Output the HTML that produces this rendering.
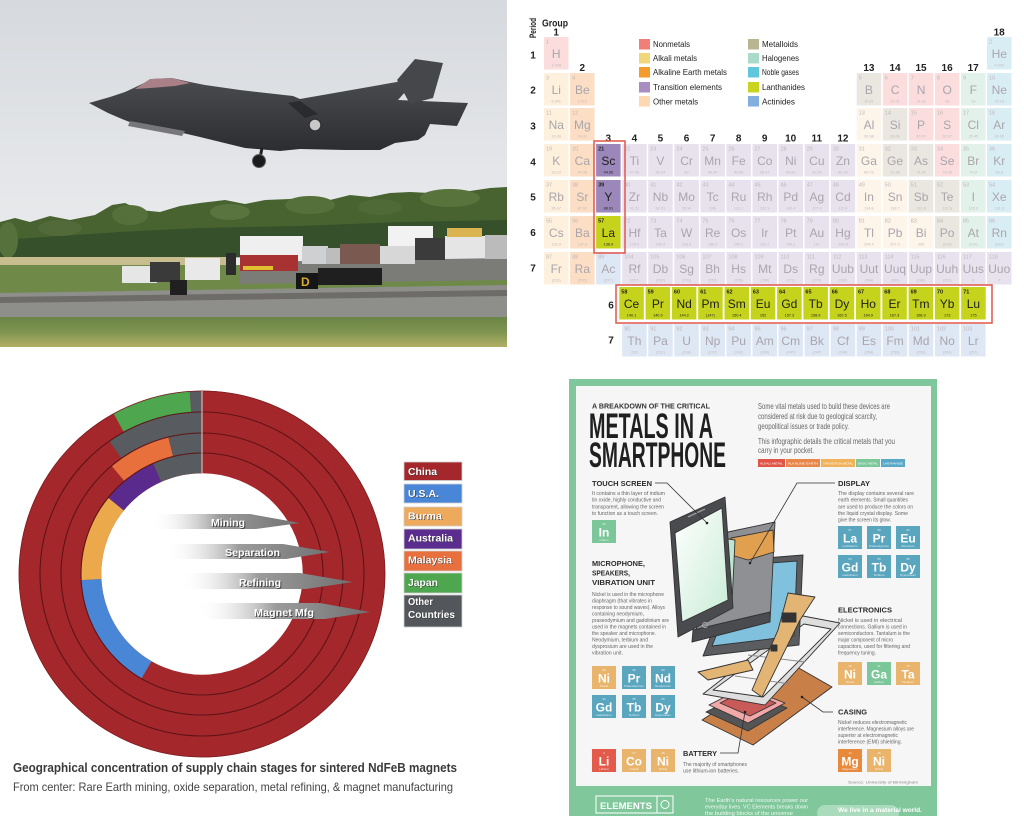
<!DOCTYPE html>
<html><head><meta charset="utf-8"><style>
html,body{margin:0;padding:0;background:#fff;}
svg{display:block}
text{font-family:"Liberation Sans",sans-serif}
.pt rect{stroke:none}
.n{font-size:5.5px;fill:#bdb6b8}
.s{font-size:12px;fill:#a9a5ab;text-anchor:middle}
.m{font-size:3.8px;fill:#c0bbbd;text-anchor:middle}
.nm rect{fill:#fbdddd}.ak rect{fill:#fdf0dc}.ae rect{fill:#fcdec4}.tr rect{fill:#e8e2ef}
.om rect{fill:#fdf4ea}.md rect{fill:#e9e7df}.hg rect{fill:#e2f2eb}.ng rect{fill:#d9eef4}
.ac rect{fill:#dee7f4}.hl rect{fill:#9b87ba}.ln rect{fill:#c6d31c}
.hl text,.ln text{fill:#1e1e1e}
.hl .n,.ln .n{font-weight:bold}
.gl{font-size:10px;font-weight:bold;fill:#222;text-anchor:middle}
.lg{font-size:8px;fill:#222}
.dl{font-size:10.5px;font-weight:bold;fill:#fff}
.dls{font-size:10.5px;font-weight:bold;fill:#333}
.at{font-size:10px;font-weight:bold;fill:#fff}
.ats{font-size:10px;font-weight:bold;fill:#444}
.ts{font-size:12px;font-weight:bold;fill:#fff;text-anchor:middle}
.tn{font-size:3px;fill:#fff;text-anchor:middle;opacity:.8}
.ih{font-size:7.5px;font-weight:bold;fill:#2b2b2b}
.ip{font-size:5px;fill:#666}
.ir{font-size:8.5px;fill:#666}
</style></head><body>
<svg width="1024" height="816" viewBox="0 0 1024 816" xmlns="http://www.w3.org/2000/svg">
<defs>
<linearGradient id="sky" x1="0" y1="0" x2="0" y2="1">
<stop offset="0" stop-color="#d6d9dd"/><stop offset="0.5" stop-color="#e4e6e9"/><stop offset="1" stop-color="#eef0f1"/>
</linearGradient>
<linearGradient id="jet" x1="0" y1="0" x2="0" y2="1">
<stop offset="0" stop-color="#4b4c50"/><stop offset="1" stop-color="#2c2d30"/>
</linearGradient>
<linearGradient id="grass" x1="0" y1="0" x2="0" y2="1">
<stop offset="0" stop-color="#6a8446"/><stop offset="0.5" stop-color="#7f9450"/><stop offset="1" stop-color="#b2b064"/>
</linearGradient>
<linearGradient id="arr" x1="0" y1="0" x2="1" y2="0">
<stop offset="0" stop-color="#ffffff" stop-opacity="0"/><stop offset="0.45" stop-color="#9c9c9c"/><stop offset="1" stop-color="#707070"/>
</linearGradient>
<linearGradient id="scr" x1="0" y1="0" x2="1" y2="1">
<stop offset="0" stop-color="#ffffff"/><stop offset="1" stop-color="#c9ecd6"/>
</linearGradient>
</defs>

<!-- ============ PHOTO ============ -->
<rect x="0" y="0" width="507" height="347" fill="url(#sky)"/>
<path d="M0,222 L15,218 L30,222 L50,216 L70,220 L95,215 L112,205 L125,203 L140,210 L160,212 L180,206 L200,203 L225,200 L245,204 L265,200 L290,199 L310,196 L330,200 L350,195 L370,197 L390,193 L410,192 L430,193 L450,190 L470,191 L490,188 L507,187 L507,250 L0,262 Z" fill="#48632f"/>
<path d="M0,240 L60,236 L120,232 L200,228 L300,226 L400,222 L507,220 L507,252 L0,262 Z" fill="#35502a"/>
<ellipse cx="130" cy="215" rx="18" ry="10" fill="#55703a"/>
<ellipse cx="310" cy="205" rx="25" ry="9" fill="#55703a"/>
<ellipse cx="450" cy="198" rx="30" ry="9" fill="#58733c"/>
<ellipse cx="60" cy="228" rx="22" ry="8" fill="#52693a"/>
<ellipse cx="230" cy="212" rx="20" ry="8" fill="#5a7440"/>
<ellipse cx="380" cy="207" rx="22" ry="8" fill="#4f6a36"/>
<ellipse cx="8" cy="240" rx="10" ry="18" fill="#56713c"/>
<rect x="0" y="257" width="230" height="9" fill="#c8bd8f"/>
<rect x="0" y="265" width="507" height="30" fill="#6f8949"/>
<path d="M240,262 L507,258 L507,280 L240,284 Z" fill="#7b7b77"/>
<path d="M0,293 L507,285 L507,318 L0,318 Z" fill="#8e8e8b"/>
<path d="M0,297 L507,290 L507,296 L0,303 Z" fill="#6d6c68"/>
<rect x="0" y="317" width="507" height="30" fill="url(#grass)"/>
<!-- vehicles -->
<rect x="122" y="266" width="35" height="17" fill="#e6e6e6"/>
<rect x="150" y="262" width="30" height="20" fill="#3a3a3a"/>
<rect x="185" y="258" width="35" height="22" fill="#e9e9e9"/>
<rect x="170" y="280" width="17" height="15" fill="#202020"/>
<rect x="226" y="253" width="10" height="22" fill="#2c2c2c"/>
<rect x="240" y="236" width="63" height="22" fill="#efefef"/>
<rect x="240" y="255" width="58" height="16" fill="#a83232"/>
<rect x="243" y="266" width="30" height="4" fill="#e0c030"/>
<rect x="302" y="246" width="26" height="18" fill="#cfd0d2"/>
<rect x="326" y="248" width="22" height="16" fill="#bdbdbd"/>
<rect x="340" y="244" width="40" height="20" fill="#7a5a50"/>
<rect x="380" y="246" width="35" height="18" fill="#d7d7d7"/>
<rect x="388" y="226" width="45" height="20" fill="#f2f2f2"/>
<rect x="415" y="238" width="30" height="22" fill="#3b3b3b"/>
<rect x="445" y="236" width="40" height="22" fill="#e5e5e5"/>
<rect x="447" y="228" width="35" height="9" fill="#d9b450"/>
<rect x="485" y="235" width="22" height="24" fill="#bbbbbb"/>
<rect x="318" y="268" width="64" height="17" fill="#1f1f1f"/>
<rect x="296" y="273" width="22" height="16" fill="#161616"/>
<text x="301" y="286" font-size="12" font-weight="bold" fill="#d9ac2a">D</text>
<!-- jet -->
<path d="M89,103 L110,97 L125,92 L140,85 L152,79 L172,78 L190,82 L205,85 L240,90 L293,96 L300,99 L408,80 L413,83 L398,100 L468,103 L457,126 L430,124 L425,135 L418,140 L395,143 L380,150 L345,150 L300,149 L280,151 L245,148 L200,137 L170,130 L140,126 L122,119 L108,113 Z" fill="url(#jet)"/>
<path d="M397,80 L415,59 L443,63 L433,98 L410,104 Z" fill="#46474b"/>
<path d="M135,89 L150,79 L172,78 L190,83 L175,86 L150,88 Z" fill="#a98088"/>
<path d="M130,121 L185,131 L182,136 L128,126 Z" fill="#77777a"/>
<path d="M288,103 L300,101 L318,114 L305,118 Z" fill="#2a2b2e"/>
<line x1="262" y1="148" x2="260" y2="158" stroke="#222" stroke-width="3"/>
<circle cx="259" cy="161" r="6.5" fill="#1c1c1e" stroke="#5a5a5a" stroke-width="1"/>
<circle cx="315" cy="125" r="6" fill="#c8c8c8" stroke="#333" stroke-width="1.5"/>

<!-- ============ PERIODIC TABLE ============ -->
<text transform="translate(536,28) rotate(-90)" font-size="9" font-weight="bold" fill="#222" text-anchor="middle" textLength="20" lengthAdjust="spacingAndGlyphs">Period</text>
<text x="542" y="26.5" font-size="10" font-weight="bold" fill="#222" textLength="26" lengthAdjust="spacingAndGlyphs">Group</text>
<text class="gl" x="556.2" y="35.5">1</text>
<text class="gl" x="582.3" y="71">2</text>
<text class="gl" x="608.3" y="141.5">3</text>
<text class="gl" x="634.4" y="141.5">4</text>
<text class="gl" x="660.4" y="141.5">5</text>
<text class="gl" x="686.5" y="141.5">6</text>
<text class="gl" x="712.6" y="141.5">7</text>
<text class="gl" x="738.6" y="141.5">8</text>
<text class="gl" x="764.7" y="141.5">9</text>
<text class="gl" x="790.7" y="141.5">10</text>
<text class="gl" x="816.8" y="141.5">11</text>
<text class="gl" x="842.9" y="141.5">12</text>
<text class="gl" x="868.9" y="71">13</text>
<text class="gl" x="895" y="71">14</text>
<text class="gl" x="921" y="71">15</text>
<text class="gl" x="947.1" y="71">16</text>
<text class="gl" x="973.2" y="71">17</text>
<text class="gl" x="999.2" y="35.5">18</text>
<text class="gl" x="533" y="58.5">1</text>
<text class="gl" x="533" y="93.5">2</text>
<text class="gl" x="533" y="129.5">3</text>
<text class="gl" x="533" y="165.5">4</text>
<text class="gl" x="533" y="200.5">5</text>
<text class="gl" x="533" y="236">6</text>
<text class="gl" x="533" y="271.5">7</text>
<text class="gl" x="611" y="308.5">6</text>
<text class="gl" x="611" y="343.5">7</text>
<!-- legend -->
<rect x="639" y="39" width="11" height="10.5" fill="#f07f78"/><text class="lg" x="653" y="47" textLength="37" lengthAdjust="spacingAndGlyphs">Nonmetals</text>
<rect x="639" y="53" width="11" height="10.5" fill="#f0d77c"/><text class="lg" x="653" y="61" textLength="44" lengthAdjust="spacingAndGlyphs">Alkali metals</text>
<rect x="639" y="67" width="11" height="10.5" fill="#f59b29"/><text class="lg" x="653" y="75" textLength="74" lengthAdjust="spacingAndGlyphs">Alkaline Earth metals</text>
<rect x="639" y="82" width="11" height="10.5" fill="#a78dc1"/><text class="lg" x="653" y="90" textLength="69" lengthAdjust="spacingAndGlyphs">Transition elements</text>
<rect x="639" y="96" width="11" height="10.5" fill="#fcd9b1"/><text class="lg" x="653" y="104.5" textLength="45" lengthAdjust="spacingAndGlyphs">Other metals</text>
<rect x="748" y="39" width="11" height="10.5" fill="#b9b491"/><text class="lg" x="762" y="47" textLength="36" lengthAdjust="spacingAndGlyphs">Metalloids</text>
<rect x="748" y="53" width="11" height="10.5" fill="#a9dcc8"/><text class="lg" x="762" y="61" textLength="37" lengthAdjust="spacingAndGlyphs">Halogenes</text>
<rect x="748" y="67" width="11" height="10.5" fill="#5ec7dc"/><text class="lg" x="762" y="75" textLength="37" lengthAdjust="spacingAndGlyphs">Noble gases</text>
<rect x="748" y="82" width="11" height="10.5" fill="#c8d41d"/><text class="lg" x="762" y="90" textLength="43" lengthAdjust="spacingAndGlyphs">Lanthanides</text>
<rect x="748" y="96" width="11" height="10.5" fill="#82aee0"/><text class="lg" x="762" y="104.5" textLength="33" lengthAdjust="spacingAndGlyphs">Actinides</text>

<g class="pt">
<!-- row 1 -->
<g class="nm" transform="translate(544,37)"><rect width="24.5" height="32.5"/><text class="n" x="2" y="6.5">1</text><text class="s" x="12.25" y="21">H</text><text class="m" x="12.25" y="29.5">1.008</text></g>
<g class="ng" transform="translate(987,37)"><rect width="24.5" height="32.5"/><text class="n" x="2" y="6.5">2</text><text class="s" x="12.25" y="21">He</text><text class="m" x="12.25" y="29.5">4.003</text></g>
<!-- row 2 -->
<g class="ak" transform="translate(544,73)"><rect width="24.5" height="32.5"/><text class="n" x="2" y="6.5">3</text><text class="s" x="12.25" y="21">Li</text><text class="m" x="12.25" y="29.5">6.941</text></g>
<g class="ae" transform="translate(570.1,73)"><rect width="24.5" height="32.5"/><text class="n" x="2" y="6.5">4</text><text class="s" x="12.25" y="21">Be</text><text class="m" x="12.25" y="29.5">9.012</text></g>
<g class="md" transform="translate(856.7,73)"><rect width="24.5" height="32.5"/><text class="n" x="2" y="6.5">5</text><text class="s" x="12.25" y="21">B</text><text class="m" x="12.25" y="29.5">10.81</text></g>
<g class="nm" transform="translate(882.8,73)"><rect width="24.5" height="32.5"/><text class="n" x="2" y="6.5">6</text><text class="s" x="12.25" y="21">C</text><text class="m" x="12.25" y="29.5">12.01</text></g>
<g class="nm" transform="translate(908.8,73)"><rect width="24.5" height="32.5"/><text class="n" x="2" y="6.5">7</text><text class="s" x="12.25" y="21">N</text><text class="m" x="12.25" y="29.5">14.01</text></g>
<g class="nm" transform="translate(934.9,73)"><rect width="24.5" height="32.5"/><text class="n" x="2" y="6.5">8</text><text class="s" x="12.25" y="21">O</text><text class="m" x="12.25" y="29.5">16</text></g>
<g class="hg" transform="translate(961,73)"><rect width="24.5" height="32.5"/><text class="n" x="2" y="6.5">9</text><text class="s" x="12.25" y="21">F</text><text class="m" x="12.25" y="29.5">19</text></g>
<g class="ng" transform="translate(987,73)"><rect width="24.5" height="32.5"/><text class="n" x="2" y="6.5">10</text><text class="s" x="12.25" y="21">Ne</text><text class="m" x="12.25" y="29.5">20.18</text></g>
<!-- row 3 -->
<g class="ak" transform="translate(544,108)"><rect width="24.5" height="32.5"/><text class="n" x="2" y="6.5">11</text><text class="s" x="12.25" y="21">Na</text><text class="m" x="12.25" y="29.5">22.99</text></g>
<g class="ae" transform="translate(570.1,108)"><rect width="24.5" height="32.5"/><text class="n" x="2" y="6.5">12</text><text class="s" x="12.25" y="21">Mg</text><text class="m" x="12.25" y="29.5">24.31</text></g>
<g class="om" transform="translate(856.7,108)"><rect width="24.5" height="32.5"/><text class="n" x="2" y="6.5">13</text><text class="s" x="12.25" y="21">Al</text><text class="m" x="12.25" y="29.5">26.98</text></g>
<g class="md" transform="translate(882.8,108)"><rect width="24.5" height="32.5"/><text class="n" x="2" y="6.5">14</text><text class="s" x="12.25" y="21">Si</text><text class="m" x="12.25" y="29.5">28.09</text></g>
<g class="nm" transform="translate(908.8,108)"><rect width="24.5" height="32.5"/><text class="n" x="2" y="6.5">15</text><text class="s" x="12.25" y="21">P</text><text class="m" x="12.25" y="29.5">30.97</text></g>
<g class="nm" transform="translate(934.9,108)"><rect width="24.5" height="32.5"/><text class="n" x="2" y="6.5">16</text><text class="s" x="12.25" y="21">S</text><text class="m" x="12.25" y="29.5">32.07</text></g>
<g class="hg" transform="translate(961,108)"><rect width="24.5" height="32.5"/><text class="n" x="2" y="6.5">17</text><text class="s" x="12.25" y="21">Cl</text><text class="m" x="12.25" y="29.5">35.45</text></g>
<g class="ng" transform="translate(987,108)"><rect width="24.5" height="32.5"/><text class="n" x="2" y="6.5">18</text><text class="s" x="12.25" y="21">Ar</text><text class="m" x="12.25" y="29.5">39.95</text></g>
<!-- row 4 -->
<g class="ak" transform="translate(544,144)"><rect width="24.5" height="32.5"/><text class="n" x="2" y="6.5">19</text><text class="s" x="12.25" y="21">K</text><text class="m" x="12.25" y="29.5">39.10</text></g>
<g class="ae" transform="translate(570.1,144)"><rect width="24.5" height="32.5"/><text class="n" x="2" y="6.5">20</text><text class="s" x="12.25" y="21">Ca</text><text class="m" x="12.25" y="29.5">40.08</text></g>
<g class="hl" transform="translate(596.1,144)"><rect width="24.5" height="32.5"/><text class="n" x="2" y="6.5">21</text><text class="s" x="12.25" y="21">Sc</text><text class="m" x="12.25" y="29.5">44.96</text></g>
<g class="tr" transform="translate(622.2,144)"><rect width="24.5" height="32.5"/><text class="n" x="2" y="6.5">22</text><text class="s" x="12.25" y="21">Ti</text><text class="m" x="12.25" y="29.5">47.88</text></g>
<g class="tr" transform="translate(648.2,144)"><rect width="24.5" height="32.5"/><text class="n" x="2" y="6.5">23</text><text class="s" x="12.25" y="21">V</text><text class="m" x="12.25" y="29.5">50.94</text></g>
<g class="tr" transform="translate(674.3,144)"><rect width="24.5" height="32.5"/><text class="n" x="2" y="6.5">24</text><text class="s" x="12.25" y="21">Cr</text><text class="m" x="12.25" y="29.5">52</text></g>
<g class="tr" transform="translate(700.4,144)"><rect width="24.5" height="32.5"/><text class="n" x="2" y="6.5">25</text><text class="s" x="12.25" y="21">Mn</text><text class="m" x="12.25" y="29.5">54.94</text></g>
<g class="tr" transform="translate(726.4,144)"><rect width="24.5" height="32.5"/><text class="n" x="2" y="6.5">26</text><text class="s" x="12.25" y="21">Fe</text><text class="m" x="12.25" y="29.5">55.85</text></g>
<g class="tr" transform="translate(752.5,144)"><rect width="24.5" height="32.5"/><text class="n" x="2" y="6.5">27</text><text class="s" x="12.25" y="21">Co</text><text class="m" x="12.25" y="29.5">58.47</text></g>
<g class="tr" transform="translate(778.5,144)"><rect width="24.5" height="32.5"/><text class="n" x="2" y="6.5">28</text><text class="s" x="12.25" y="21">Ni</text><text class="m" x="12.25" y="29.5">58.69</text></g>
<g class="tr" transform="translate(804.6,144)"><rect width="24.5" height="32.5"/><text class="n" x="2" y="6.5">29</text><text class="s" x="12.25" y="21">Cu</text><text class="m" x="12.25" y="29.5">63.55</text></g>
<g class="tr" transform="translate(830.7,144)"><rect width="24.5" height="32.5"/><text class="n" x="2" y="6.5">30</text><text class="s" x="12.25" y="21">Zn</text><text class="m" x="12.25" y="29.5">65.39</text></g>
<g class="om" transform="translate(856.7,144)"><rect width="24.5" height="32.5"/><text class="n" x="2" y="6.5">31</text><text class="s" x="12.25" y="21">Ga</text><text class="m" x="12.25" y="29.5">69.72</text></g>
<g class="md" transform="translate(882.8,144)"><rect width="24.5" height="32.5"/><text class="n" x="2" y="6.5">32</text><text class="s" x="12.25" y="21">Ge</text><text class="m" x="12.25" y="29.5">72.59</text></g>
<g class="md" transform="translate(908.8,144)"><rect width="24.5" height="32.5"/><text class="n" x="2" y="6.5">33</text><text class="s" x="12.25" y="21">As</text><text class="m" x="12.25" y="29.5">74.92</text></g>
<g class="nm" transform="translate(934.9,144)"><rect width="24.5" height="32.5"/><text class="n" x="2" y="6.5">34</text><text class="s" x="12.25" y="21">Se</text><text class="m" x="12.25" y="29.5">78.96</text></g>
<g class="hg" transform="translate(961,144)"><rect width="24.5" height="32.5"/><text class="n" x="2" y="6.5">35</text><text class="s" x="12.25" y="21">Br</text><text class="m" x="12.25" y="29.5">79.9</text></g>
<g class="ng" transform="translate(987,144)"><rect width="24.5" height="32.5"/><text class="n" x="2" y="6.5">36</text><text class="s" x="12.25" y="21">Kr</text><text class="m" x="12.25" y="29.5">83.8</text></g>
<!-- row 5 -->
<g class="ak" transform="translate(544,180)"><rect width="24.5" height="32.5"/><text class="n" x="2" y="6.5">37</text><text class="s" x="12.25" y="21">Rb</text><text class="m" x="12.25" y="29.5">85.47</text></g>
<g class="ae" transform="translate(570.1,180)"><rect width="24.5" height="32.5"/><text class="n" x="2" y="6.5">38</text><text class="s" x="12.25" y="21">Sr</text><text class="m" x="12.25" y="29.5">87.62</text></g>
<g class="hl" transform="translate(596.1,180)"><rect width="24.5" height="32.5"/><text class="n" x="2" y="6.5">39</text><text class="s" x="12.25" y="21">Y</text><text class="m" x="12.25" y="29.5">88.91</text></g>
<g class="tr" transform="translate(622.2,180)"><rect width="24.5" height="32.5"/><text class="n" x="2" y="6.5">40</text><text class="s" x="12.25" y="21">Zr</text><text class="m" x="12.25" y="29.5">91.22</text></g>
<g class="tr" transform="translate(648.2,180)"><rect width="24.5" height="32.5"/><text class="n" x="2" y="6.5">41</text><text class="s" x="12.25" y="21">Nb</text><text class="m" x="12.25" y="29.5">92.91</text></g>
<g class="tr" transform="translate(674.3,180)"><rect width="24.5" height="32.5"/><text class="n" x="2" y="6.5">42</text><text class="s" x="12.25" y="21">Mo</text><text class="m" x="12.25" y="29.5">95.94</text></g>
<g class="tr" transform="translate(700.4,180)"><rect width="24.5" height="32.5"/><text class="n" x="2" y="6.5">43</text><text class="s" x="12.25" y="21">Tc</text><text class="m" x="12.25" y="29.5">(98)</text></g>
<g class="tr" transform="translate(726.4,180)"><rect width="24.5" height="32.5"/><text class="n" x="2" y="6.5">44</text><text class="s" x="12.25" y="21">Ru</text><text class="m" x="12.25" y="29.5">101.1</text></g>
<g class="tr" transform="translate(752.5,180)"><rect width="24.5" height="32.5"/><text class="n" x="2" y="6.5">45</text><text class="s" x="12.25" y="21">Rh</text><text class="m" x="12.25" y="29.5">102.9</text></g>
<g class="tr" transform="translate(778.5,180)"><rect width="24.5" height="32.5"/><text class="n" x="2" y="6.5">46</text><text class="s" x="12.25" y="21">Pd</text><text class="m" x="12.25" y="29.5">106.4</text></g>
<g class="tr" transform="translate(804.6,180)"><rect width="24.5" height="32.5"/><text class="n" x="2" y="6.5">47</text><text class="s" x="12.25" y="21">Ag</text><text class="m" x="12.25" y="29.5">107.9</text></g>
<g class="tr" transform="translate(830.7,180)"><rect width="24.5" height="32.5"/><text class="n" x="2" y="6.5">48</text><text class="s" x="12.25" y="21">Cd</text><text class="m" x="12.25" y="29.5">112.4</text></g>
<g class="om" transform="translate(856.7,180)"><rect width="24.5" height="32.5"/><text class="n" x="2" y="6.5">49</text><text class="s" x="12.25" y="21">In</text><text class="m" x="12.25" y="29.5">114.8</text></g>
<g class="om" transform="translate(882.8,180)"><rect width="24.5" height="32.5"/><text class="n" x="2" y="6.5">50</text><text class="s" x="12.25" y="21">Sn</text><text class="m" x="12.25" y="29.5">118.7</text></g>
<g class="md" transform="translate(908.8,180)"><rect width="24.5" height="32.5"/><text class="n" x="2" y="6.5">51</text><text class="s" x="12.25" y="21">Sb</text><text class="m" x="12.25" y="29.5">121.8</text></g>
<g class="md" transform="translate(934.9,180)"><rect width="24.5" height="32.5"/><text class="n" x="2" y="6.5">52</text><text class="s" x="12.25" y="21">Te</text><text class="m" x="12.25" y="29.5">127.6</text></g>
<g class="hg" transform="translate(961,180)"><rect width="24.5" height="32.5"/><text class="n" x="2" y="6.5">53</text><text class="s" x="12.25" y="21">I</text><text class="m" x="12.25" y="29.5">126.9</text></g>
<g class="ng" transform="translate(987,180)"><rect width="24.5" height="32.5"/><text class="n" x="2" y="6.5">54</text><text class="s" x="12.25" y="21">Xe</text><text class="m" x="12.25" y="29.5">131.3</text></g>
<!-- row 6 -->
<g class="ak" transform="translate(544,216)"><rect width="24.5" height="32.5"/><text class="n" x="2" y="6.5">55</text><text class="s" x="12.25" y="21">Cs</text><text class="m" x="12.25" y="29.5">132.9</text></g>
<g class="ae" transform="translate(570.1,216)"><rect width="24.5" height="32.5"/><text class="n" x="2" y="6.5">56</text><text class="s" x="12.25" y="21">Ba</text><text class="m" x="12.25" y="29.5">137.3</text></g>
<g class="ln" transform="translate(596.1,216)"><rect width="24.5" height="32.5"/><text class="n" x="2" y="6.5">57</text><text class="s" x="12.25" y="21">La</text><text class="m" x="12.25" y="29.5">138.9</text></g>
<g class="tr" transform="translate(622.2,216)"><rect width="24.5" height="32.5"/><text class="n" x="2" y="6.5">72</text><text class="s" x="12.25" y="21">Hf</text><text class="m" x="12.25" y="29.5">178.5</text></g>
<g class="tr" transform="translate(648.2,216)"><rect width="24.5" height="32.5"/><text class="n" x="2" y="6.5">73</text><text class="s" x="12.25" y="21">Ta</text><text class="m" x="12.25" y="29.5">180.9</text></g>
<g class="tr" transform="translate(674.3,216)"><rect width="24.5" height="32.5"/><text class="n" x="2" y="6.5">74</text><text class="s" x="12.25" y="21">W</text><text class="m" x="12.25" y="29.5">183.9</text></g>
<g class="tr" transform="translate(700.4,216)"><rect width="24.5" height="32.5"/><text class="n" x="2" y="6.5">75</text><text class="s" x="12.25" y="21">Re</text><text class="m" x="12.25" y="29.5">186.2</text></g>
<g class="tr" transform="translate(726.4,216)"><rect width="24.5" height="32.5"/><text class="n" x="2" y="6.5">76</text><text class="s" x="12.25" y="21">Os</text><text class="m" x="12.25" y="29.5">190.2</text></g>
<g class="tr" transform="translate(752.5,216)"><rect width="24.5" height="32.5"/><text class="n" x="2" y="6.5">77</text><text class="s" x="12.25" y="21">Ir</text><text class="m" x="12.25" y="29.5">192.2</text></g>
<g class="tr" transform="translate(778.5,216)"><rect width="24.5" height="32.5"/><text class="n" x="2" y="6.5">78</text><text class="s" x="12.25" y="21">Pt</text><text class="m" x="12.25" y="29.5">195.1</text></g>
<g class="tr" transform="translate(804.6,216)"><rect width="24.5" height="32.5"/><text class="n" x="2" y="6.5">79</text><text class="s" x="12.25" y="21">Au</text><text class="m" x="12.25" y="29.5">197</text></g>
<g class="tr" transform="translate(830.7,216)"><rect width="24.5" height="32.5"/><text class="n" x="2" y="6.5">80</text><text class="s" x="12.25" y="21">Hg</text><text class="m" x="12.25" y="29.5">200.5</text></g>
<g class="om" transform="translate(856.7,216)"><rect width="24.5" height="32.5"/><text class="n" x="2" y="6.5">81</text><text class="s" x="12.25" y="21">Tl</text><text class="m" x="12.25" y="29.5">204.4</text></g>
<g class="om" transform="translate(882.8,216)"><rect width="24.5" height="32.5"/><text class="n" x="2" y="6.5">82</text><text class="s" x="12.25" y="21">Pb</text><text class="m" x="12.25" y="29.5">207.2</text></g>
<g class="om" transform="translate(908.8,216)"><rect width="24.5" height="32.5"/><text class="n" x="2" y="6.5">83</text><text class="s" x="12.25" y="21">Bi</text><text class="m" x="12.25" y="29.5">209</text></g>
<g class="md" transform="translate(934.9,216)"><rect width="24.5" height="32.5"/><text class="n" x="2" y="6.5">84</text><text class="s" x="12.25" y="21">Po</text><text class="m" x="12.25" y="29.5">(210)</text></g>
<g class="hg" transform="translate(961,216)"><rect width="24.5" height="32.5"/><text class="n" x="2" y="6.5">85</text><text class="s" x="12.25" y="21">At</text><text class="m" x="12.25" y="29.5">(210)</text></g>
<g class="ng" transform="translate(987,216)"><rect width="24.5" height="32.5"/><text class="n" x="2" y="6.5">86</text><text class="s" x="12.25" y="21">Rn</text><text class="m" x="12.25" y="29.5">(222)</text></g>
<!-- row 7 -->
<g class="ak" transform="translate(544,252)"><rect width="24.5" height="32.5"/><text class="n" x="2" y="6.5">87</text><text class="s" x="12.25" y="21">Fr</text><text class="m" x="12.25" y="29.5">(223)</text></g>
<g class="ae" transform="translate(570.1,252)"><rect width="24.5" height="32.5"/><text class="n" x="2" y="6.5">88</text><text class="s" x="12.25" y="21">Ra</text><text class="m" x="12.25" y="29.5">(226)</text></g>
<g class="ac" transform="translate(596.1,252)"><rect width="24.5" height="32.5"/><text class="n" x="2" y="6.5">89</text><text class="s" x="12.25" y="21">Ac</text><text class="m" x="12.25" y="29.5">(227)</text></g>
<g class="tr" transform="translate(622.2,252)"><rect width="24.5" height="32.5"/><text class="n" x="2" y="6.5">104</text><text class="s" x="12.25" y="21">Rf</text><text class="m" x="12.25" y="29.5">(257)</text></g>
<g class="tr" transform="translate(648.2,252)"><rect width="24.5" height="32.5"/><text class="n" x="2" y="6.5">105</text><text class="s" x="12.25" y="21">Db</text><text class="m" x="12.25" y="29.5">(260)</text></g>
<g class="tr" transform="translate(674.3,252)"><rect width="24.5" height="32.5"/><text class="n" x="2" y="6.5">106</text><text class="s" x="12.25" y="21">Sg</text><text class="m" x="12.25" y="29.5">(263)</text></g>
<g class="tr" transform="translate(700.4,252)"><rect width="24.5" height="32.5"/><text class="n" x="2" y="6.5">107</text><text class="s" x="12.25" y="21">Bh</text><text class="m" x="12.25" y="29.5">(262)</text></g>
<g class="tr" transform="translate(726.4,252)"><rect width="24.5" height="32.5"/><text class="n" x="2" y="6.5">108</text><text class="s" x="12.25" y="21">Hs</text><text class="m" x="12.25" y="29.5">(265)</text></g>
<g class="tr" transform="translate(752.5,252)"><rect width="24.5" height="32.5"/><text class="n" x="2" y="6.5">109</text><text class="s" x="12.25" y="21">Mt</text><text class="m" x="12.25" y="29.5">(266)</text></g>
<g class="tr" transform="translate(778.5,252)"><rect width="24.5" height="32.5"/><text class="n" x="2" y="6.5">110</text><text class="s" x="12.25" y="21">Ds</text><text class="m" x="12.25" y="29.5">(271)</text></g>
<g class="tr" transform="translate(804.6,252)"><rect width="24.5" height="32.5"/><text class="n" x="2" y="6.5">111</text><text class="s" x="12.25" y="21">Rg</text><text class="m" x="12.25" y="29.5">(272)</text></g>
<g class="tr" transform="translate(830.7,252)"><rect width="24.5" height="32.5"/><text class="n" x="2" y="6.5">112</text><text class="s" x="12.25" y="21">Uub</text><text class="m" x="12.25" y="29.5">(285)</text></g>
<g class="tr" transform="translate(856.7,252)"><rect width="24.5" height="32.5"/><text class="n" x="2" y="6.5">113</text><text class="s" x="12.25" y="21">Uut</text><text class="m" x="12.25" y="29.5">(284)</text></g>
<g class="tr" transform="translate(882.8,252)"><rect width="24.5" height="32.5"/><text class="n" x="2" y="6.5">114</text><text class="s" x="12.25" y="21">Uuq</text><text class="m" x="12.25" y="29.5">(289)</text></g>
<g class="tr" transform="translate(908.8,252)"><rect width="24.5" height="32.5"/><text class="n" x="2" y="6.5">115</text><text class="s" x="12.25" y="21">Uup</text><text class="m" x="12.25" y="29.5">(288)</text></g>
<g class="tr" transform="translate(934.9,252)"><rect width="24.5" height="32.5"/><text class="n" x="2" y="6.5">116</text><text class="s" x="12.25" y="21">Uuh</text><text class="m" x="12.25" y="29.5">(292)</text></g>
<g class="tr" transform="translate(961,252)"><rect width="24.5" height="32.5"/><text class="n" x="2" y="6.5">117</text><text class="s" x="12.25" y="21">Uus</text><text class="m" x="12.25" y="29.5">0</text></g>
<g class="tr" transform="translate(987,252)"><rect width="24.5" height="32.5"/><text class="n" x="2" y="6.5">118</text><text class="s" x="12.25" y="21">Uuo</text><text class="m" x="12.25" y="29.5">0</text></g>
<!-- lanthanides -->
<g class="ln" transform="translate(619.3,287)"><rect width="24.5" height="32.5"/><text class="n" x="2" y="6.5">58</text><text class="s" x="12.25" y="21">Ce</text><text class="m" x="12.25" y="29.5">140.1</text></g>
<g class="ln" transform="translate(645.6,287)"><rect width="24.5" height="32.5"/><text class="n" x="2" y="6.5">59</text><text class="s" x="12.25" y="21">Pr</text><text class="m" x="12.25" y="29.5">140.9</text></g>
<g class="ln" transform="translate(671.9,287)"><rect width="24.5" height="32.5"/><text class="n" x="2" y="6.5">60</text><text class="s" x="12.25" y="21">Nd</text><text class="m" x="12.25" y="29.5">144.2</text></g>
<g class="ln" transform="translate(698.2,287)"><rect width="24.5" height="32.5"/><text class="n" x="2" y="6.5">61</text><text class="s" x="12.25" y="21">Pm</text><text class="m" x="12.25" y="29.5">(147)</text></g>
<g class="ln" transform="translate(724.5,287)"><rect width="24.5" height="32.5"/><text class="n" x="2" y="6.5">62</text><text class="s" x="12.25" y="21">Sm</text><text class="m" x="12.25" y="29.5">150.4</text></g>
<g class="ln" transform="translate(750.8,287)"><rect width="24.5" height="32.5"/><text class="n" x="2" y="6.5">63</text><text class="s" x="12.25" y="21">Eu</text><text class="m" x="12.25" y="29.5">152</text></g>
<g class="ln" transform="translate(777.1,287)"><rect width="24.5" height="32.5"/><text class="n" x="2" y="6.5">64</text><text class="s" x="12.25" y="21">Gd</text><text class="m" x="12.25" y="29.5">157.3</text></g>
<g class="ln" transform="translate(803.4,287)"><rect width="24.5" height="32.5"/><text class="n" x="2" y="6.5">65</text><text class="s" x="12.25" y="21">Tb</text><text class="m" x="12.25" y="29.5">158.9</text></g>
<g class="ln" transform="translate(829.7,287)"><rect width="24.5" height="32.5"/><text class="n" x="2" y="6.5">66</text><text class="s" x="12.25" y="21">Dy</text><text class="m" x="12.25" y="29.5">162.5</text></g>
<g class="ln" transform="translate(856,287)"><rect width="24.5" height="32.5"/><text class="n" x="2" y="6.5">67</text><text class="s" x="12.25" y="21">Ho</text><text class="m" x="12.25" y="29.5">164.9</text></g>
<g class="ln" transform="translate(882.3,287)"><rect width="24.5" height="32.5"/><text class="n" x="2" y="6.5">68</text><text class="s" x="12.25" y="21">Er</text><text class="m" x="12.25" y="29.5">167.3</text></g>
<g class="ln" transform="translate(908.6,287)"><rect width="24.5" height="32.5"/><text class="n" x="2" y="6.5">69</text><text class="s" x="12.25" y="21">Tm</text><text class="m" x="12.25" y="29.5">168.9</text></g>
<g class="ln" transform="translate(934.9,287)"><rect width="24.5" height="32.5"/><text class="n" x="2" y="6.5">70</text><text class="s" x="12.25" y="21">Yb</text><text class="m" x="12.25" y="29.5">173</text></g>
<g class="ln" transform="translate(961.2,287)"><rect width="24.5" height="32.5"/><text class="n" x="2" y="6.5">71</text><text class="s" x="12.25" y="21">Lu</text><text class="m" x="12.25" y="29.5">175</text></g>
<!-- actinides -->
<g class="ac" transform="translate(622.2,324)"><rect width="24.5" height="32.5"/><text class="n" x="2" y="6.5">90</text><text class="s" x="12.25" y="21">Th</text><text class="m" x="12.25" y="29.5">232</text></g>
<g class="ac" transform="translate(648.2,324)"><rect width="24.5" height="32.5"/><text class="n" x="2" y="6.5">91</text><text class="s" x="12.25" y="21">Pa</text><text class="m" x="12.25" y="29.5">(231)</text></g>
<g class="ac" transform="translate(674.3,324)"><rect width="24.5" height="32.5"/><text class="n" x="2" y="6.5">92</text><text class="s" x="12.25" y="21">U</text><text class="m" x="12.25" y="29.5">(238)</text></g>
<g class="ac" transform="translate(700.4,324)"><rect width="24.5" height="32.5"/><text class="n" x="2" y="6.5">93</text><text class="s" x="12.25" y="21">Np</text><text class="m" x="12.25" y="29.5">(237)</text></g>
<g class="ac" transform="translate(726.4,324)"><rect width="24.5" height="32.5"/><text class="n" x="2" y="6.5">94</text><text class="s" x="12.25" y="21">Pu</text><text class="m" x="12.25" y="29.5">(242)</text></g>
<g class="ac" transform="translate(752.5,324)"><rect width="24.5" height="32.5"/><text class="n" x="2" y="6.5">95</text><text class="s" x="12.25" y="21">Am</text><text class="m" x="12.25" y="29.5">(243)</text></g>
<g class="ac" transform="translate(778.5,324)"><rect width="24.5" height="32.5"/><text class="n" x="2" y="6.5">96</text><text class="s" x="12.25" y="21">Cm</text><text class="m" x="12.25" y="29.5">(247)</text></g>
<g class="ac" transform="translate(804.6,324)"><rect width="24.5" height="32.5"/><text class="n" x="2" y="6.5">97</text><text class="s" x="12.25" y="21">Bk</text><text class="m" x="12.25" y="29.5">(247)</text></g>
<g class="ac" transform="translate(830.7,324)"><rect width="24.5" height="32.5"/><text class="n" x="2" y="6.5">98</text><text class="s" x="12.25" y="21">Cf</text><text class="m" x="12.25" y="29.5">(249)</text></g>
<g class="ac" transform="translate(856.7,324)"><rect width="24.5" height="32.5"/><text class="n" x="2" y="6.5">99</text><text class="s" x="12.25" y="21">Es</text><text class="m" x="12.25" y="29.5">(254)</text></g>
<g class="ac" transform="translate(882.8,324)"><rect width="24.5" height="32.5"/><text class="n" x="2" y="6.5">100</text><text class="s" x="12.25" y="21">Fm</text><text class="m" x="12.25" y="29.5">(253)</text></g>
<g class="ac" transform="translate(908.8,324)"><rect width="24.5" height="32.5"/><text class="n" x="2" y="6.5">101</text><text class="s" x="12.25" y="21">Md</text><text class="m" x="12.25" y="29.5">(256)</text></g>
<g class="ac" transform="translate(934.9,324)"><rect width="24.5" height="32.5"/><text class="n" x="2" y="6.5">102</text><text class="s" x="12.25" y="21">No</text><text class="m" x="12.25" y="29.5">(254)</text></g>
<g class="ac" transform="translate(961,324)"><rect width="24.5" height="32.5"/><text class="n" x="2" y="6.5">103</text><text class="s" x="12.25" y="21">Lr</text><text class="m" x="12.25" y="29.5">(257)</text></g>
</g>
<rect x="594" y="141" width="31" height="112" fill="none" stroke="#e0564b" stroke-width="1.5"/>
<rect x="616" y="285" width="376" height="38" fill="none" stroke="#e0564b" stroke-width="1.5"/>

<!-- ============ DONUT ============ -->
<g fill="none" transform="rotate(-90 202 574)">
<circle cx="202" cy="574" r="111" stroke="#a4272b" stroke-width="20.5"/>
<circle cx="202" cy="574" r="131" stroke="#a4272b" stroke-width="20.5"/>
<circle cx="202" cy="574" r="151.5" stroke="#a4272b" stroke-width="21.5"/>
<circle cx="202" cy="574" r="172.5" stroke="#a4272b" stroke-width="21.5"/>
<circle cx="202" cy="574" r="111" stroke="#4a86d6" stroke-width="20.5" stroke-dasharray="110.43 2000" stroke-dashoffset="-406.83"/>
<circle cx="202" cy="574" r="111" stroke="#eca94c" stroke-width="20.5" stroke-dasharray="81.37 2000" stroke-dashoffset="-517.26"/>
<circle cx="202" cy="574" r="111" stroke="#5a2b8c" stroke-width="20.5" stroke-dasharray="52.31 2000" stroke-dashoffset="-598.63"/>
<circle cx="202" cy="574" r="111" stroke="#585b5f" stroke-width="20.5" stroke-dasharray="46.49 2000" stroke-dashoffset="-650.94"/>
<circle cx="202" cy="574" r="131" stroke="#e8703c" stroke-width="20.5" stroke-dasharray="59.45 2000" stroke-dashoffset="-731.64"/>
<circle cx="202" cy="574" r="131" stroke="#585b5f" stroke-width="20.5" stroke-dasharray="32.01 2000" stroke-dashoffset="-791.09"/>
<circle cx="202" cy="574" r="151.5" stroke="#585b5f" stroke-width="21.5" stroke-dasharray="92.55 2000" stroke-dashoffset="-859.35"/>
<circle cx="202" cy="574" r="172.5" stroke="#4ea64f" stroke-width="21.5" stroke-dasharray="75.27 2000" stroke-dashoffset="-996.55"/>
<circle cx="202" cy="574" r="172.5" stroke="#585b5f" stroke-width="21.5" stroke-dasharray="12.04 2000" stroke-dashoffset="-1071.82"/>
</g>
<g fill="none" stroke="#5e1416" stroke-width="1.1">
<circle cx="202" cy="574" r="121"/>
<circle cx="202" cy="574" r="141"/>
<circle cx="202" cy="574" r="162"/>
</g>
<circle cx="202" cy="574" r="183" fill="none" stroke="#7a1d20" stroke-width="0.8"/>
<line x1="202" y1="391" x2="202" y2="473" stroke="#d5d5d5" stroke-width="1"/>
<!-- arrows -->
<path d="M152,514 L250,514 L300,523 L256,529 L152,529 Z" fill="url(#arr)"/>
<path d="M165,544 L283,544 L330,552 L286,559 L165,559 Z" fill="url(#arr)"/>
<path d="M180,573 L300,573 L353,582 L306,589 L180,589 Z" fill="url(#arr)"/>
<path d="M197,603 L320,603 L370,612 L325,619 L197,619 Z" fill="url(#arr)"/>
<text class="ats" x="212" y="527" textLength="34" lengthAdjust="spacingAndGlyphs">Mining</text>
<text class="at" x="211" y="526" textLength="34" lengthAdjust="spacingAndGlyphs">Mining</text>
<text class="ats" x="226" y="557" textLength="55" lengthAdjust="spacingAndGlyphs">Separation</text>
<text class="at" x="225" y="556" textLength="55" lengthAdjust="spacingAndGlyphs">Separation</text>
<text class="ats" x="240" y="587" textLength="42" lengthAdjust="spacingAndGlyphs">Refining</text>
<text class="at" x="239" y="586" textLength="42" lengthAdjust="spacingAndGlyphs">Refining</text>
<text class="ats" x="255" y="617" textLength="60" lengthAdjust="spacingAndGlyphs">Magnet Mfg</text>
<text class="at" x="254" y="616" textLength="60" lengthAdjust="spacingAndGlyphs">Magnet Mfg</text>
<!-- donut legend -->
<g stroke="#cfcfcf" stroke-width="0.8">
<rect x="404" y="462" width="58" height="18.5" fill="#a4272b"/>
<rect x="404" y="484" width="58" height="19" fill="#4a86d8"/>
<rect x="404" y="507" width="58" height="19" fill="#eda95c"/>
<rect x="404" y="529" width="58" height="20" fill="#5b2d8e"/>
<rect x="404" y="551" width="58" height="20" fill="#e8703e"/>
<rect x="404" y="573" width="58" height="20" fill="#4ea64f"/>
<rect x="404" y="595" width="58" height="32" fill="#53575b"/>
</g>
<text class="dls" x="408.6" y="475.6" textLength="29" lengthAdjust="spacingAndGlyphs">China</text>
<text class="dl" x="408" y="475" textLength="29" lengthAdjust="spacingAndGlyphs">China</text>
<text class="dls" x="408.6" y="497.6" textLength="31" lengthAdjust="spacingAndGlyphs">U.S.A.</text>
<text class="dl" x="408" y="497" textLength="31" lengthAdjust="spacingAndGlyphs">U.S.A.</text>
<text class="dls" x="408.6" y="520.1" textLength="34" lengthAdjust="spacingAndGlyphs">Burma</text>
<text class="dl" x="408" y="519.5" textLength="34" lengthAdjust="spacingAndGlyphs">Burma</text>
<text class="dls" x="408.6" y="542.1" textLength="45" lengthAdjust="spacingAndGlyphs">Australia</text>
<text class="dl" x="408" y="541.5" textLength="45" lengthAdjust="spacingAndGlyphs">Australia</text>
<text class="dls" x="408.6" y="564.1" textLength="44" lengthAdjust="spacingAndGlyphs">Malaysia</text>
<text class="dl" x="408" y="563.5" textLength="44" lengthAdjust="spacingAndGlyphs">Malaysia</text>
<text class="dls" x="408.6" y="586.6" textLength="30" lengthAdjust="spacingAndGlyphs">Japan</text>
<text class="dl" x="408" y="586" textLength="30" lengthAdjust="spacingAndGlyphs">Japan</text>
<text class="dls" x="408.6" y="605.6" textLength="25" lengthAdjust="spacingAndGlyphs">Other</text>
<text class="dl" x="408" y="605" textLength="25" lengthAdjust="spacingAndGlyphs">Other</text>
<text class="dls" x="408.6" y="618.6" textLength="47" lengthAdjust="spacingAndGlyphs">Countries</text>
<text class="dl" x="408" y="618" textLength="47" lengthAdjust="spacingAndGlyphs">Countries</text>
<!-- caption -->
<text x="13" y="772" font-size="13" font-weight="bold" fill="#3a3a3a" textLength="444" lengthAdjust="spacingAndGlyphs">Geographical concentration of supply chain stages for sintered NdFeB magnets</text>
<text x="13" y="791" font-size="12" fill="#444" textLength="440" lengthAdjust="spacingAndGlyphs">From center: Rare Earth mining, oxide separation, metal refining, &amp; magnet manufacturing</text>

<!-- ============ INFOGRAPHIC ============ -->
<rect x="569" y="379" width="368" height="437" fill="#80c89c"/>
<rect x="576" y="386" width="355" height="400" fill="#f6f6f6"/>
<text x="592" y="408.5" font-size="7" font-weight="bold" fill="#333" textLength="118" lengthAdjust="spacingAndGlyphs">A BREAKDOWN OF THE CRITICAL</text>
<text x="589" y="438" font-size="35" font-weight="bold" fill="#1f1f1f" textLength="124" lengthAdjust="spacingAndGlyphs">METALS IN A</text>
<text x="589" y="467" font-size="35" font-weight="bold" fill="#1f1f1f" textLength="137" lengthAdjust="spacingAndGlyphs">SMARTPHONE</text>
<text class="ir" x="758" y="409" textLength="132" lengthAdjust="spacingAndGlyphs">Some vital metals used to build these devices are</text>
<text class="ir" x="758" y="419" textLength="119" lengthAdjust="spacingAndGlyphs">considered at risk due to geological scarcity,</text>
<text class="ir" x="758" y="429" textLength="91" lengthAdjust="spacingAndGlyphs">geopolitical issues or trade policy.</text>
<text class="ir" x="758" y="444" textLength="137" lengthAdjust="spacingAndGlyphs">This infographic details the critical metals that you</text>
<text class="ir" x="758" y="453" textLength="56" lengthAdjust="spacingAndGlyphs">carry in your pocket.</text>
<rect x="758" y="459" width="27" height="8" fill="#e05548"/>
<rect x="786" y="459" width="34" height="8" fill="#e8874a"/>
<rect x="821" y="459" width="34" height="8" fill="#f0b25a"/>
<rect x="856" y="459" width="24" height="8" fill="#7cc89a"/>
<rect x="881" y="459" width="24" height="8" fill="#5aa8c8"/>
<g font-size="2.5" fill="#fff">
<text x="760" y="464.5" textLength="23" lengthAdjust="spacingAndGlyphs">ALKALI METAL</text>
<text x="788" y="464.5" textLength="30" lengthAdjust="spacingAndGlyphs">ALKALINE EARTH</text>
<text x="823" y="464.5" textLength="30" lengthAdjust="spacingAndGlyphs">TRANSITION METAL</text>
<text x="858" y="464.5" textLength="20" lengthAdjust="spacingAndGlyphs">BASIC METAL</text>
<text x="883" y="464.5" textLength="20" lengthAdjust="spacingAndGlyphs">LANTHANIDE</text>
</g>
<!-- headings -->
<text class="ih" x="592" y="486" textLength="60" lengthAdjust="spacingAndGlyphs">TOUCH SCREEN</text>
<text class="ih" x="838" y="486" textLength="32" lengthAdjust="spacingAndGlyphs">DISPLAY</text>
<text class="ih" x="592" y="566" font-size="8.5" textLength="53" lengthAdjust="spacingAndGlyphs">MICROPHONE,</text>
<text class="ih" x="592" y="575.5" font-size="8.5" textLength="38" lengthAdjust="spacingAndGlyphs">SPEAKERS,</text>
<text class="ih" x="592" y="585" font-size="8.5" textLength="63" lengthAdjust="spacingAndGlyphs">VIBRATION UNIT</text>
<text class="ih" x="838" y="612.5" textLength="54" lengthAdjust="spacingAndGlyphs">ELECTRONICS</text>
<text class="ih" x="838" y="714.5" textLength="29" lengthAdjust="spacingAndGlyphs">CASING</text>
<text class="ih" x="683" y="756" textLength="34" lengthAdjust="spacingAndGlyphs">BATTERY</text>
<!-- paragraphs -->
<g class="ip">
<text class="ip" x="592" y="495" textLength="73" lengthAdjust="spacingAndGlyphs">It contains a thin layer of indium</text>
<text class="ip" x="592" y="501.7" textLength="69" lengthAdjust="spacingAndGlyphs">tin oxide, highly conductive and</text>
<text class="ip" x="592" y="508.4" textLength="72" lengthAdjust="spacingAndGlyphs">transparent, allowing the screen</text>
<text class="ip" x="592" y="515" textLength="66" lengthAdjust="spacingAndGlyphs">to function as a touch screen.</text>
<text class="ip" x="592" y="596" textLength="72" lengthAdjust="spacingAndGlyphs">Nickel is used in the microphone</text>
<text class="ip" x="592" y="602.5" textLength="60" lengthAdjust="spacingAndGlyphs">diaphragm (that vibrates in</text>
<text class="ip" x="592" y="609" textLength="73" lengthAdjust="spacingAndGlyphs">response to sound waves). Alloys</text>
<text class="ip" x="592" y="615.5" textLength="52" lengthAdjust="spacingAndGlyphs">containing neodymium,</text>
<text class="ip" x="592" y="622" textLength="77" lengthAdjust="spacingAndGlyphs">praseodymium and gadolinium are</text>
<text class="ip" x="592" y="628.5" textLength="74" lengthAdjust="spacingAndGlyphs">used in the magnets contained in</text>
<text class="ip" x="592" y="635" textLength="64" lengthAdjust="spacingAndGlyphs">the speaker and microphone.</text>
<text class="ip" x="592" y="641.5" textLength="56" lengthAdjust="spacingAndGlyphs">Neodymium, terbium and</text>
<text class="ip" x="592" y="648" textLength="61" lengthAdjust="spacingAndGlyphs">dysprosium are used in the</text>
<text class="ip" x="592" y="654.5" textLength="31" lengthAdjust="spacingAndGlyphs">vibration unit.</text>
<text class="ip" x="838" y="495" textLength="76" lengthAdjust="spacingAndGlyphs">The display contains several rare</text>
<text class="ip" x="838" y="501.7" textLength="70" lengthAdjust="spacingAndGlyphs">earth elements. Small quantities</text>
<text class="ip" x="838" y="508.4" textLength="75" lengthAdjust="spacingAndGlyphs">are used to produce the colors on</text>
<text class="ip" x="838" y="515" textLength="70" lengthAdjust="spacingAndGlyphs">the liquid crystal display. Some</text>
<text class="ip" x="838" y="521.7" textLength="53" lengthAdjust="spacingAndGlyphs">give the screen its glow.</text>
<text class="ip" x="838" y="622" textLength="64" lengthAdjust="spacingAndGlyphs">Nickel is used in electrical</text>
<text class="ip" x="838" y="628.5" textLength="69" lengthAdjust="spacingAndGlyphs">connections. Gallium is used in</text>
<text class="ip" x="838" y="635" textLength="72" lengthAdjust="spacingAndGlyphs">semiconductors. Tantalum is the</text>
<text class="ip" x="838" y="641.5" textLength="55" lengthAdjust="spacingAndGlyphs">major component of micro</text>
<text class="ip" x="838" y="648" textLength="72" lengthAdjust="spacingAndGlyphs">capacitors, used for filtering and</text>
<text class="ip" x="838" y="654.5" textLength="38" lengthAdjust="spacingAndGlyphs">frequency tuning.</text>
<text class="ip" x="838" y="724" textLength="69" lengthAdjust="spacingAndGlyphs">Nickel reduces electromagnetic</text>
<text class="ip" x="838" y="730.5" textLength="76" lengthAdjust="spacingAndGlyphs">interference. Magnesium alloys are</text>
<text class="ip" x="838" y="737" textLength="60" lengthAdjust="spacingAndGlyphs">superior at electromagnetic</text>
<text class="ip" x="838" y="743.5" textLength="64" lengthAdjust="spacingAndGlyphs">interference (EMI) shielding.</text>
<text class="ip" x="683" y="766" textLength="64" lengthAdjust="spacingAndGlyphs">The majority of smartphones</text>
<text class="ip" x="683" y="772.5" textLength="56" lengthAdjust="spacingAndGlyphs">use lithium-ion batteries.</text>
<text x="848" y="783.5" font-size="4" fill="#888" textLength="70" lengthAdjust="spacingAndGlyphs">Source: University of Birmingham</text>
</g>
<!-- tiles -->
<g>
<g transform="translate(592,520)"><rect width="24" height="23" fill="#7cc79a"/><text class="tn" x="12" y="5">49</text><text class="ts" x="12" y="16.5">In</text><text class="tn" x="12" y="21">Indium</text></g>
<g transform="translate(592,666)"><rect width="24" height="23" fill="#e9b46b"/><text class="tn" x="12" y="5">28</text><text class="ts" x="12" y="16.5">Ni</text><text class="tn" x="12" y="21">Nickel</text></g>
<g transform="translate(622,666)"><rect width="24" height="23" fill="#5ba6bf"/><text class="tn" x="12" y="5">59</text><text class="ts" x="12" y="16.5">Pr</text><text class="tn" x="12" y="21">Praseodymium</text></g>
<g transform="translate(651,666)"><rect width="24" height="23" fill="#5ba6bf"/><text class="tn" x="12" y="5">60</text><text class="ts" x="12" y="16.5">Nd</text><text class="tn" x="12" y="21">Neodymium</text></g>
<g transform="translate(592,695)"><rect width="24" height="23" fill="#5ba6bf"/><text class="tn" x="12" y="5">64</text><text class="ts" x="12" y="16.5">Gd</text><text class="tn" x="12" y="21">Gadolinium</text></g>
<g transform="translate(622,695)"><rect width="24" height="23" fill="#5ba6bf"/><text class="tn" x="12" y="5">65</text><text class="ts" x="12" y="16.5">Tb</text><text class="tn" x="12" y="21">Terbium</text></g>
<g transform="translate(651,695)"><rect width="24" height="23" fill="#5ba6bf"/><text class="tn" x="12" y="5">66</text><text class="ts" x="12" y="16.5">Dy</text><text class="tn" x="12" y="21">Dysprosium</text></g>
<g transform="translate(592,749)"><rect width="24" height="23" fill="#e35b4b"/><text class="tn" x="12" y="5">3</text><text class="ts" x="12" y="16.5">Li</text><text class="tn" x="12" y="21">Lithium</text></g>
<g transform="translate(622,749)"><rect width="24" height="23" fill="#e9b46b"/><text class="tn" x="12" y="5">27</text><text class="ts" x="12" y="16.5">Co</text><text class="tn" x="12" y="21">Cobalt</text></g>
<g transform="translate(651,749)"><rect width="24" height="23" fill="#e9b46b"/><text class="tn" x="12" y="5">28</text><text class="ts" x="12" y="16.5">Ni</text><text class="tn" x="12" y="21">Nickel</text></g>
<g transform="translate(838,526)"><rect width="24" height="23" fill="#5ba6bf"/><text class="tn" x="12" y="5">57</text><text class="ts" x="12" y="16.5">La</text><text class="tn" x="12" y="21">Lanthanum</text></g>
<g transform="translate(867,526)"><rect width="24" height="23" fill="#5ba6bf"/><text class="tn" x="12" y="5">59</text><text class="ts" x="12" y="16.5">Pr</text><text class="tn" x="12" y="21">Praseodymium</text></g>
<g transform="translate(896,526)"><rect width="24" height="23" fill="#5ba6bf"/><text class="tn" x="12" y="5">63</text><text class="ts" x="12" y="16.5">Eu</text><text class="tn" x="12" y="21">Europium</text></g>
<g transform="translate(838,555)"><rect width="24" height="23" fill="#5ba6bf"/><text class="tn" x="12" y="5">64</text><text class="ts" x="12" y="16.5">Gd</text><text class="tn" x="12" y="21">Gadolinium</text></g>
<g transform="translate(867,555)"><rect width="24" height="23" fill="#5ba6bf"/><text class="tn" x="12" y="5">65</text><text class="ts" x="12" y="16.5">Tb</text><text class="tn" x="12" y="21">Terbium</text></g>
<g transform="translate(896,555)"><rect width="24" height="23" fill="#5ba6bf"/><text class="tn" x="12" y="5">66</text><text class="ts" x="12" y="16.5">Dy</text><text class="tn" x="12" y="21">Dysprosium</text></g>
<g transform="translate(838,662)"><rect width="24" height="23" fill="#e9b46b"/><text class="tn" x="12" y="5">28</text><text class="ts" x="12" y="16.5">Ni</text><text class="tn" x="12" y="21">Nickel</text></g>
<g transform="translate(867,662)"><rect width="24" height="23" fill="#7cc79a"/><text class="tn" x="12" y="5">31</text><text class="ts" x="12" y="16.5">Ga</text><text class="tn" x="12" y="21">Gallium</text></g>
<g transform="translate(896,662)"><rect width="24" height="23" fill="#e9b46b"/><text class="tn" x="12" y="5">73</text><text class="ts" x="12" y="16.5">Ta</text><text class="tn" x="12" y="21">Tantalum</text></g>
<g transform="translate(838,749)"><rect width="24" height="23" fill="#e88a3d"/><text class="tn" x="12" y="5">12</text><text class="ts" x="12" y="16.5">Mg</text><text class="tn" x="12" y="21">Magnesium</text></g>
<g transform="translate(867,749)"><rect width="24" height="23" fill="#e9b46b"/><text class="tn" x="12" y="5">28</text><text class="ts" x="12" y="16.5">Ni</text><text class="tn" x="12" y="21">Nickel</text></g>
</g>
<!-- phone illustration -->
<g stroke="#333" stroke-width="0.9" stroke-linejoin="round">
<polygon points="702,720 790,663 832,687 753,745" fill="#c98048"/>
<polygon points="706,712 745,692 787,708 748,731" fill="#555"/>
<polygon points="709,705 744,687 785,703 748,723" fill="#f0a8a8"/>
<polygon points="720,703 746,690 776,703 750,716" fill="#c85a58"/>
<polygon points="803,616 840,623 765,705 703,694" fill="#dedede"/>
<polygon points="804,624 831,629 763,697 713,690" fill="#f6f6f6"/>
<line x1="748" y1="655" x2="805" y2="662" stroke="#888"/>
<line x1="735" y1="676" x2="790" y2="684" stroke="#888"/>
<polygon points="740,560 803,555 799,645 703,656" fill="#5a5c60"/>
<polygon points="745,565 797,561 794,636 712,646" fill="#80c2dd"/>
<polygon points="788,593 815,597 800,620 762,697 752,690 778,630" fill="#e2b575"/>
<polygon points="698,672 748,660 753,670 708,680" fill="#e2b575"/>
<rect x="782" y="613" width="14" height="9" fill="#333"/>
<rect x="771" y="645" width="6" height="6" fill="#333"/>
<polygon points="728,532 775,522 770,622 692,642" fill="#8e9094"/>
<polygon points="693,630 770,612 770,622 692,642" fill="#4a4b4f"/>
<polygon points="731,538 773,530 774,552 748,560 731,555" fill="#e0a050"/>
<polygon points="715,537 735,540 732,603 700,610" fill="#bfe7d0"/>
<polygon points="670,522 725,497 733,608 678,637" fill="#4a4b4f"/>
<polygon points="675,533 722,508 728,600 682,622" fill="url(#scr)"/>
<circle cx="705" cy="625" r="2.5" fill="none" stroke="#aaa"/>
<line x1="688" y1="517" x2="705" y2="509" stroke="#999" stroke-width="1.5"/>
</g>
<g stroke="#333" stroke-width="0.8" fill="none">
<polyline points="655,483 667,483 707,523"/>
<polyline points="835,483 797,483 750,563"/>
<polyline points="833,712 823,712 802,697"/>
<polyline points="720,753 738,753 745,712"/>
</g>
<circle cx="707" cy="523" r="1.3" fill="#222"/>
<circle cx="750" cy="563" r="1.3" fill="#222"/>
<circle cx="802" cy="697" r="1.3" fill="#222"/>
<circle cx="745" cy="712" r="1.3" fill="#222"/>
<!-- footer -->
<rect x="596" y="796" width="77" height="17" fill="none" stroke="#fff" stroke-width="1"/>
<line x1="657" y1="796" x2="657" y2="813" stroke="#fff" stroke-width="1"/>
<text x="600" y="809" font-size="9" font-weight="bold" fill="#fff" textLength="52" lengthAdjust="spacingAndGlyphs">ELEMENTS</text>
<circle cx="665" cy="804.5" r="4" fill="none" stroke="#fff" stroke-width="1"/>
<text x="705" y="802" font-size="5" fill="#eef8f1" textLength="103" lengthAdjust="spacingAndGlyphs">The Earth's natural resources power our</text>
<text x="705" y="808.5" font-size="5" fill="#eef8f1" textLength="103" lengthAdjust="spacingAndGlyphs">everyday lives. VC Elements breaks down</text>
<text x="705" y="815" font-size="5" fill="#eef8f1" textLength="88" lengthAdjust="spacingAndGlyphs">the building blocks of the universe</text>
<rect x="817" y="805" width="82" height="16" rx="8" fill="#a9dbbc"/>
<text x="838" y="812" font-size="6" font-weight="bold" fill="#fff" textLength="84" lengthAdjust="spacingAndGlyphs">We live in a material world.</text>
</svg>
</body></html>
